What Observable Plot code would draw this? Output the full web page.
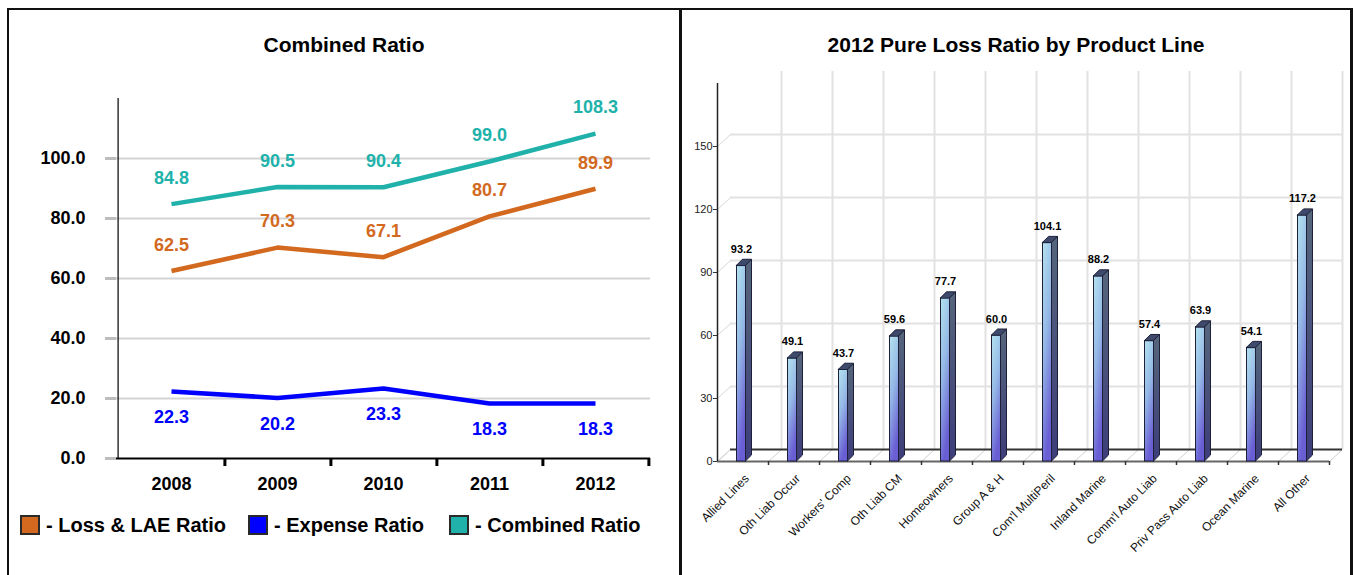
<!DOCTYPE html>
<html><head><meta charset="utf-8">
<script src="https://cdn.jsdelivr.net/npm/d3@7"></script>
<script src="https://cdn.jsdelivr.net/npm/@observablehq/plot@0.6"></script>
<style>
body{margin:0;background:#fff;font-family:"Liberation Sans",Arial,sans-serif;}
#page{position:relative;width:1353px;height:575px;overflow:hidden;background:#fff;}
.b{position:absolute;background:#111;}
.title{position:absolute;font-weight:bold;font-size:21px;line-height:24px;text-align:center;color:#000;}
.chart{position:absolute;}
.item{position:absolute;top:515px;display:flex;align-items:center;font-weight:bold;font-size:20px;line-height:20px;color:#000;}
.sw{width:20px;height:20px;box-sizing:border-box;border:2px solid #2a2a2a;margin-right:6px;}
</style></head>
<body><div id="page">
<div class="b" style="left:7px;top:8px;width:1346px;height:2px"></div>
<div class="b" style="left:7px;top:8px;width:2px;height:567px"></div>
<div class="b" style="left:679px;top:8px;width:3px;height:567px"></div>
<div class="b" style="left:1350px;top:8px;width:3px;height:567px"></div>
<div class="title" style="left:9px;width:670px;top:33px">Combined Ratio</div>
<div class="title" style="left:682px;width:668px;top:33px">2012 Pure Loss Ratio by Product Line</div>
<div id="left" class="chart" style="left:10px;top:80px"></div>
<div id="right" class="chart" style="left:683px;top:60px"></div>
<div id="legend"></div>
</div>
<script>
// ---- Left chart data ----
const years = ["2008","2009","2010","2011","2012"];
const lossLAE = [62.5,70.3,67.1,80.7,89.9];
const expense = [22.3,20.2,23.3,18.3,18.3];
const combined = [84.8,90.5,90.4,99.0,108.3];
const yTicks = [0,20,40,60,80,100];
const seriesNames = ["Loss & LAE Ratio","Expense Ratio","Combined Ratio"];
const seriesColors = ["#D2691E","#0000FF","#20B2AA"];

// ---- Right chart data ----
const productLines = ["Allied Lines","Oth Liab Occur","Workers' Comp","Oth Liab CM","Homeowners","Group A & H","Com'l MultiPeril","Inland Marine","Comm'l Auto Liab","Priv Pass Auto Liab","Ocean Marine","All Other"];
const pureLoss = [93.2,49.1,43.7,59.6,77.7,60.0,104.1,88.2,57.4,63.9,54.1,117.2];
const lossTicks = [0,30,60,90,120,150];

const FONT = "Liberation Sans, Arial, sans-serif";

// ===== Left chart =====
const seriesVals = [lossLAE, expense, combined];
const rows = seriesNames.flatMap((s, k) => years.map((y, i) => ({series: s, year: y, value: seriesVals[k][i]})));
const LW = 660, LH = 430, LML = 106, LMR = 20, LMT = 18, LMB = 52;
const bw = (LW - LML - LMR) / years.length;
const pyL = (LH - LMT - LMB) / 120;
const left = Plot.plot({
  width: LW, height: LH, marginLeft: LML, marginRight: LMR, marginTop: LMT, marginBottom: LMB,
  x: {type: "band", domain: years, padding: 0, axis: null},
  y: {domain: [0, 120], axis: null},
  color: {domain: seriesNames, range: seriesColors},
  style: {fontFamily: FONT, background: "transparent", overflow: "visible"},
  marks: [
    Plot.ruleY(yTicks.filter(t => t > 0), {y: d => d, stroke: "#d4d4d4", strokeWidth: 2}),
    Plot.axisY({ticks: yTicks, tickSize: 11, tickPadding: 20, stroke: "#bdbdbd", strokeWidth: 3,
      tickFormat: d => d.toFixed(1), fontSize: 18, fontWeight: "bold", fill: "#000", label: null}),
    Plot.ruleX([years[0]], {x: d => d, dx: -bw / 2, y1: 0, y2: 120, stroke: "#000", strokeWidth: 1.2}),
    Plot.ruleY([0], {stroke: "#000", strokeWidth: 2}),
    Plot.ruleX(years, {x: d => d, dx: bw / 2, y1: 0, y2: -8 / pyL, stroke: "#000", strokeWidth: 3}),
    Plot.text(years, {x: d => d, y: 0, dy: 26, text: d => d, fontSize: 18, fontWeight: "bold", fill: "#000"}),
    Plot.line(rows, {x: "year", y: "value", z: "series", stroke: "series", strokeWidth: 4.5, strokeLinejoin: "miter", strokeLinecap: "butt"}),
    Plot.text(rows.filter(d => d.series !== "Expense Ratio"), {x: "year", y: "value", text: d => d.value.toFixed(1), fill: "series", dy: -26, fontSize: 18, fontWeight: "bold"}),
    Plot.text(rows.filter(d => d.series === "Expense Ratio"), {x: "year", y: "value", text: d => d.value.toFixed(1), fill: "series", dy: 26, fontSize: 18, fontWeight: "bold"})
  ]
});
document.getElementById("left").appendChild(left);

// legend
const legendLefts = [20, 248, 449];
const lg = document.getElementById("legend");
seriesNames.forEach((s, k) => {
  const it = document.createElement("div");
  it.className = "item";
  it.style.left = legendLefts[k] + "px";
  it.innerHTML = `<div class="sw" style="background:${seriesColors[k]}"></div><span>- ${s}</span>`;
  lg.appendChild(it);
});

// ===== Right chart =====
const RW = 668, RH = 515, RML = 34, RMR = 22, RMT = 23, RMB = 114;
const n = productLines.length;
const kx = (RW - RML - RMR) / n;       // px per category unit
const ky = (RH - RMT - RMB) / 180;     // px per value unit
const WX = 13, WY = 12;                // back wall depth (px)
const BD = 6;                          // bar depth (px)
const bars = productLines.map((p, i) => ({p, i, v: pureLoss[i]}));
const bounds = d3.range(n + 1).map(k => k - 0.5);
const fl = -6 / kx, fr = 3 / kx, bdx = BD / kx, bdy = BD / ky;
const sides = bars.flatMap(d => [
  {i: d.i, x: d.i + fr, y1: 0, y2: d.v},
  {i: d.i, x: d.i + fr + bdx, y1: bdy, y2: d.v + bdy}
]);
const tops = bars.flatMap(d => [
  {i: d.i, y: d.v, x1: d.i + fl, x2: d.i + fr},
  {i: d.i, y: d.v + bdy, x1: d.i + fl + bdx, x2: d.i + fr + bdx}
]);
const OUT = "#1d2038";
const right = Plot.plot({
  width: RW, height: RH, marginLeft: RML, marginRight: RMR, marginTop: RMT, marginBottom: RMB,
  x: {type: "linear", domain: [-0.5, n - 0.5], axis: null},
  y: {domain: [0, 180], axis: null},
  style: {fontFamily: FONT, background: "transparent", overflow: "visible"},
  marks: [
    Plot.ruleY(lossTicks.filter(t => t > 0), {y: d => d, x1: -0.5, x2: n - 0.5, dx: WX, dy: -WY, stroke: "#e2e2e2", strokeWidth: 2}),
    Plot.ruleX(bounds.slice(1), {x: d => d, y1: 0, y2: 180, dx: WX, dy: -WY, stroke: "#e2e2e2", strokeWidth: 2}),
    Plot.link(lossTicks, {x1: -0.5, y1: d => d, x2: -0.5 + WX / kx, y2: d => d + WY / ky, stroke: "#d8d8d8", strokeWidth: 1}),
    Plot.link(bounds, {x1: d => d, y1: 0, x2: d => d + WX / kx, y2: WY / ky, stroke: "#d0d0d0", strokeWidth: 1}),
    Plot.ruleY([0], {x1: -0.5, x2: n - 0.5, dx: WX, dy: -WY, stroke: "#333", strokeWidth: 2}),
    Plot.ruleY([0], {x1: -0.5, x2: n - 0.5, stroke: "#666", strokeWidth: 2}),
    Plot.ruleX([-0.5], {y1: 0, y2: 180, stroke: "#222", strokeWidth: 1.5}),
    Plot.ruleX(bounds.slice(1), {x: d => d, y1: 0, y2: -4 / ky, stroke: "#333", strokeWidth: 1.5}),
    Plot.axisY({ticks: lossTicks, tickSize: 4, tickPadding: 1, stroke: "#333", fontSize: 11, fill: "#222", label: null}),
    Plot.areaY(sides, {x: "x", y1: "y1", y2: "y2", z: "i", fill: "url(#sideGrad)", stroke: OUT, strokeWidth: 1}),
    Plot.rect(bars, {x1: d => d.i + fl, x2: d => d.i + fr, y1: 0, y2: "v", fill: "url(#frontGrad)", stroke: OUT, strokeWidth: 1}),
    Plot.areaX(tops, {y: "y", x1: "x1", x2: "x2", z: "i", fill: "#3e4a6c", stroke: OUT, strokeWidth: 1}),
    Plot.text(bars, {x: "i", y: "v", dx: -1.5, dy: -13, lineAnchor: "bottom", text: d => d.v.toFixed(1), fontSize: 11, fontWeight: "bold", fill: "#000"}),
    Plot.text(bars, {x: "i", y: 0, dx: 4, dy: 15, text: "p", rotate: -45, textAnchor: "end", lineAnchor: "middle", fontSize: 12, fill: "#111"})
  ]
});
const defs = d3.select(right).insert("defs", ":first-child");
const g1 = defs.append("linearGradient").attr("id", "frontGrad").attr("x1", 0).attr("y1", 0).attr("x2", 0.35).attr("y2", 1);
g1.append("stop").attr("offset", 0).attr("stop-color", "#b4e3ef");
g1.append("stop").attr("offset", 0.5).attr("stop-color", "#94b8e6");
g1.append("stop").attr("offset", 1).attr("stop-color", "#6a5ed4");
const g2 = defs.append("linearGradient").attr("id", "sideGrad").attr("x1", 0).attr("y1", 0).attr("x2", 0).attr("y2", 1);
g2.append("stop").attr("offset", 0).attr("stop-color", "#56667b");
g2.append("stop").attr("offset", 1).attr("stop-color", "#3d3d7a");
document.getElementById("right").appendChild(right);
</script>
</body></html>
